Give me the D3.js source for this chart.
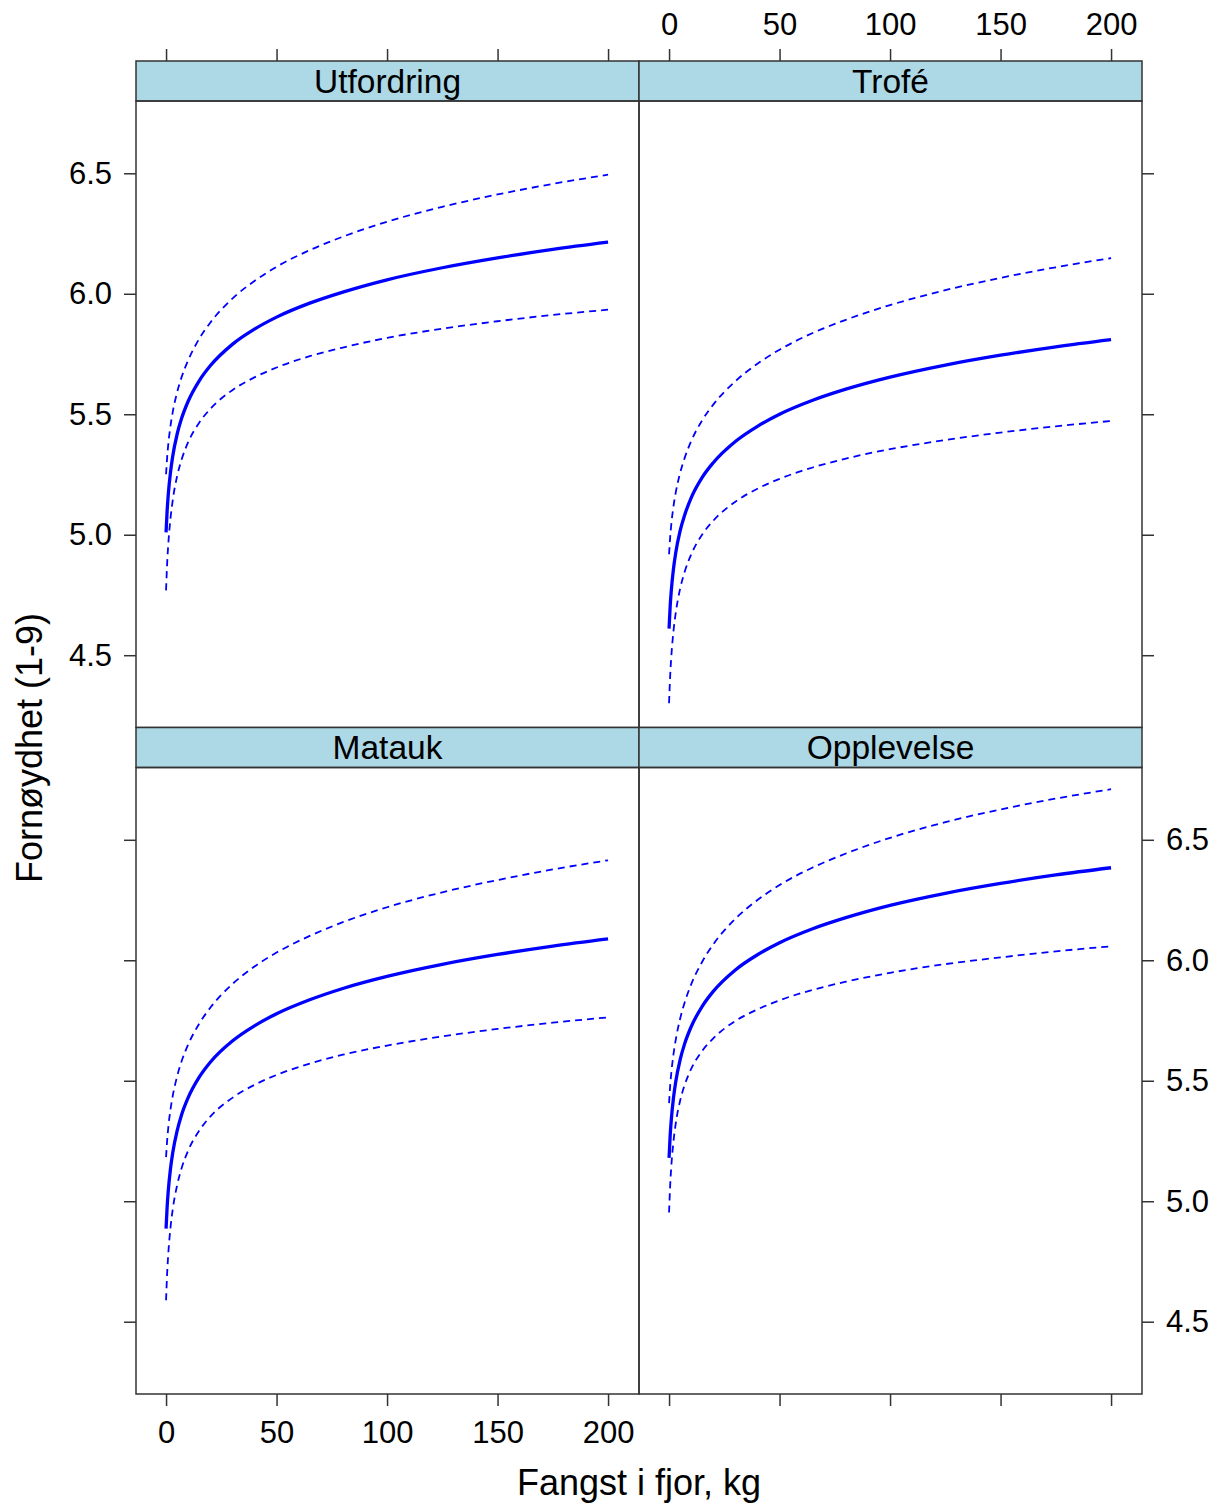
<!DOCTYPE html>
<html>
<head>
<meta charset="utf-8">
<script src="https://cdn.jsdelivr.net/npm/d3@7/dist/d3.min.js"></script>
<style>
  body { margin: 0; background: #fff; }
  svg text { font-family: "Liberation Sans", Arial, sans-serif; fill: #000; }
</style>
</head>
<body>
<script>
// catch last year (kg) at which the effect curves were read
var fangst = [0, 0.5, 1, 2, 3, 5, 7, 10, 15, 20, 30, 40, 50, 65, 80, 100, 125, 150, 175, 200];

// Utfordring
var utfordringFit   = [5.010, 5.102, 5.167, 5.259, 5.325, 5.417, 5.482, 5.554, 5.639, 5.701, 5.790, 5.853, 5.903, 5.961, 6.007, 6.058, 6.108, 6.149, 6.184, 6.214];
var utfordringLower = [4.769, 4.882, 4.960, 5.067, 5.142, 5.243, 5.311, 5.384, 5.465, 5.522, 5.600, 5.653, 5.694, 5.741, 5.777, 5.817, 5.855, 5.886, 5.912, 5.934];
var utfordringUpper = [5.251, 5.322, 5.375, 5.451, 5.508, 5.591, 5.653, 5.724, 5.813, 5.880, 5.980, 6.053, 6.112, 6.181, 6.237, 6.299, 6.361, 6.412, 6.456, 6.494];

// Trofé
var trofeFit   = [4.610, 4.702, 4.767, 4.859, 4.924, 5.016, 5.080, 5.153, 5.238, 5.299, 5.387, 5.450, 5.500, 5.558, 5.604, 5.654, 5.704, 5.745, 5.780, 5.810];
var trofeLower = [4.301, 4.414, 4.492, 4.600, 4.674, 4.776, 4.844, 4.918, 5.001, 5.058, 5.137, 5.191, 5.232, 5.279, 5.316, 5.355, 5.393, 5.424, 5.450, 5.472];
var trofeUpper = [4.919, 4.990, 5.042, 5.118, 5.174, 5.256, 5.317, 5.388, 5.475, 5.540, 5.637, 5.710, 5.768, 5.837, 5.892, 5.953, 6.015, 6.066, 6.110, 6.148];

// Matauk
var mataukFit   = [4.886, 4.978, 5.043, 5.135, 5.200, 5.292, 5.358, 5.430, 5.515, 5.577, 5.665, 5.728, 5.778, 5.836, 5.883, 5.933, 5.983, 6.024, 6.059, 6.089];
var mataukLower = [4.589, 4.703, 4.781, 4.890, 4.965, 5.066, 5.136, 5.210, 5.293, 5.351, 5.429, 5.483, 5.524, 5.571, 5.608, 5.646, 5.684, 5.715, 5.741, 5.763];
var mataukUpper = [5.183, 5.253, 5.305, 5.380, 5.436, 5.518, 5.580, 5.650, 5.737, 5.803, 5.901, 5.974, 6.032, 6.101, 6.158, 6.220, 6.282, 6.333, 6.377, 6.415];

// Opplevelse
var opplevelseFit   = [5.180, 5.272, 5.337, 5.429, 5.495, 5.587, 5.652, 5.724, 5.809, 5.871, 5.960, 6.023, 6.073, 6.131, 6.177, 6.228, 6.278, 6.319, 6.354, 6.384];
var opplevelseLower = [4.953, 5.065, 5.143, 5.248, 5.321, 5.417, 5.481, 5.549, 5.624, 5.676, 5.748, 5.796, 5.834, 5.877, 5.911, 5.948, 5.984, 6.012, 6.037, 6.058];
var opplevelseUpper = [5.407, 5.479, 5.531, 5.610, 5.669, 5.757, 5.823, 5.900, 5.994, 6.066, 6.172, 6.250, 6.312, 6.385, 6.443, 6.508, 6.573, 6.626, 6.671, 6.710];

var panelNames = ["Utfordring", "Trofé", "Matauk", "Opplevelse"];
var xTicks = [0, 50, 100, 150, 200];
var yTicks = [4.5, 5.0, 5.5, 6.0, 6.5];
var xTitle = "Fangst i fjor, kg";
var yTitle = "Fornøydhet (1-9)";

var canvasWidth = 1224;
var canvasHeight = 1506;
var colLeft = [136, 639], colWidth = 503;
var rowTop = [61, 727.5], stripH = 40, panelH = 626.5;
var tickLen = 12;
var lineColor = "#0000ff";
var frameColor = "#333";

var panels = [
  {name: panelNames[0], col: 0, row: 0, fit: utfordringFit, lower: utfordringLower, upper: utfordringUpper},
  {name: panelNames[1], col: 1, row: 0, fit: trofeFit, lower: trofeLower, upper: trofeUpper},
  {name: panelNames[2], col: 0, row: 1, fit: mataukFit, lower: mataukLower, upper: mataukUpper},
  {name: panelNames[3], col: 1, row: 1, fit: opplevelseFit, lower: opplevelseLower, upper: opplevelseUpper}
];

var svg = d3.select("body").append("svg")
    .attr("width", canvasWidth)
    .attr("height", canvasHeight);

panels.forEach(function(p) {
  var x0 = colLeft[p.col];
  var stripTop = rowTop[p.row];
  var top = stripTop + stripH;
  var bottom = top + panelH;

  var xScale = d3.scaleLinear().domain([-13.6, 214]).range([x0, x0 + colWidth]);
  var yScale = d3.scaleLinear().domain([4.2, 6.8]).range([bottom, top]);

  var line = d3.line()
      .x(function(d, i) { return xScale(fangst[i]); })
      .y(function(d) { return yScale(d); })
      .curve(d3.curveMonotoneX);

  var g = svg.append("g");

  // clip so nothing leaks outside panel
  var clipId = "clip" + p.col + p.row;
  g.append("clipPath").attr("id", clipId)
    .append("rect")
      .attr("x", x0).attr("y", top)
      .attr("width", colWidth).attr("height", panelH);

  var curves = g.append("g").attr("clip-path", "url(#" + clipId + ")");
  [p.lower, p.upper].forEach(function(band) {
    curves.append("path")
      .datum(band)
      .attr("d", line)
      .attr("fill", "none")
      .attr("stroke", lineColor)
      .attr("stroke-width", 1.8)
      .attr("stroke-dasharray", "7,5");
  });
  curves.append("path")
    .datum(p.fit)
    .attr("d", line)
    .attr("fill", "none")
    .attr("stroke", lineColor)
    .attr("stroke-width", 3.3);

  // strip
  g.append("rect")
    .attr("x", x0).attr("y", stripTop)
    .attr("width", colWidth).attr("height", stripH)
    .attr("fill", "#add8e6")
    .attr("stroke", frameColor)
    .attr("stroke-width", 1.5);
  g.append("text")
    .attr("x", x0 + colWidth / 2)
    .attr("y", stripTop + stripH / 2 + 11.5)
    .attr("text-anchor", "middle")
    .style("font-size", "33.5px")
    .text(p.name);

  // panel frame
  g.append("rect")
    .attr("x", x0).attr("y", top)
    .attr("width", colWidth).attr("height", panelH)
    .attr("fill", "none")
    .attr("stroke", frameColor)
    .attr("stroke-width", 1.5);

  // axes, lattice style alternating labels
  var yFmt = d3.format(".1f");
  if (p.col == 0) {
    var ax = d3.axisLeft(yScale).tickValues(yTicks).tickSize(tickLen).tickPadding(12)
        .tickFormat(p.row == 0 ? yFmt : "");
    g.append("g").attr("class", "axis").attr("transform", "translate(" + x0 + ",0)").call(ax);
  } else {
    var ax = d3.axisRight(yScale).tickValues(yTicks).tickSize(tickLen).tickPadding(12)
        .tickFormat(p.row == 1 ? yFmt : "");
    g.append("g").attr("class", "axis").attr("transform", "translate(" + (x0 + colWidth) + ",0)").call(ax);
  }
  if (p.row == 0) {
    var ax = d3.axisTop(xScale).tickValues(xTicks).tickSize(tickLen).tickPadding(14)
        .tickFormat(p.col == 1 ? d3.format("d") : "");
    g.append("g").attr("class", "axis").attr("transform", "translate(0," + stripTop + ")").call(ax);
  } else {
    var ax = d3.axisBottom(xScale).tickValues(xTicks).tickSize(tickLen).tickPadding(15)
        .tickFormat(p.col == 0 ? d3.format("d") : "");
    g.append("g").attr("class", "axis").attr("transform", "translate(0," + bottom + ")").call(ax);
  }
});

svg.selectAll(".axis .domain").remove();
svg.selectAll(".axis line").attr("stroke", frameColor).attr("stroke-width", 1.5);
svg.selectAll(".axis text")
    .style("font-size", "31px")
    .style("font-family", "'Liberation Sans', Arial, sans-serif")
    .attr("fill", "#000");

// axis titles
svg.append("text")
  .attr("x", 639)
  .attr("y", 1495)
  .attr("text-anchor", "middle")
  .style("font-size", "36px")
  .text(xTitle);

svg.append("text")
  .attr("transform", "translate(42,748) rotate(-90)")
  .attr("text-anchor", "middle")
  .style("font-size", "36px")
  .text(yTitle);
</script>
</body>
</html>
